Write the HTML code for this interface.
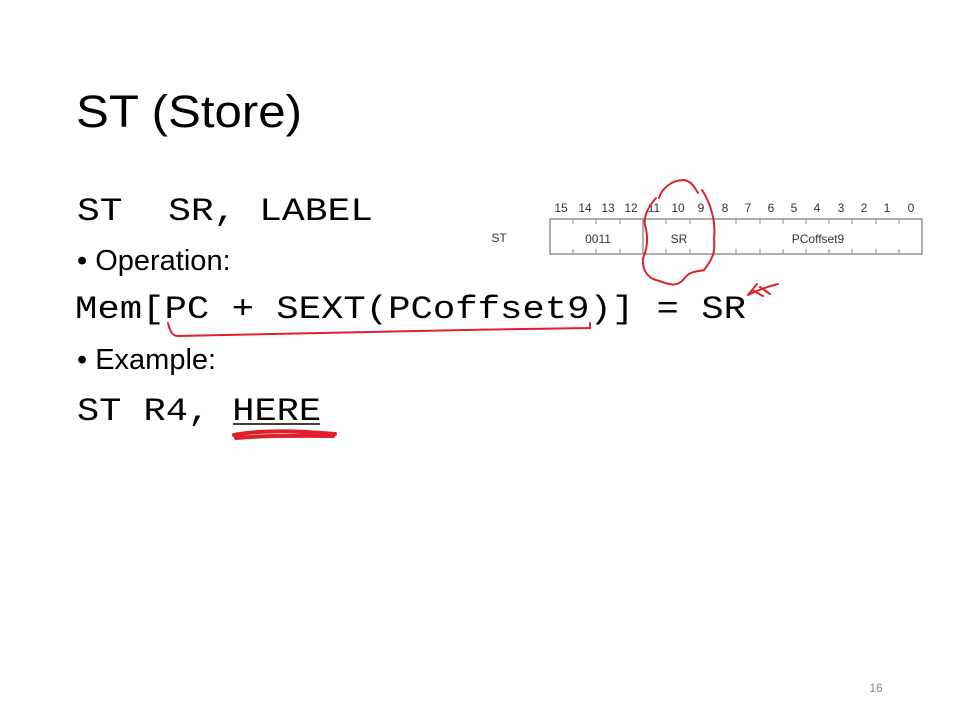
<!DOCTYPE html>
<html><head><meta charset="utf-8"><style>
html,body{margin:0;padding:0;background:#fff;}
svg{display:block;}
text{white-space:pre;}
</style></head><body>
<svg width="960" height="720" viewBox="0 0 960 720" xmlns="http://www.w3.org/2000/svg" xml:space="preserve">
<rect width="960" height="720" fill="#fff"/>
<text x="76" y="127" font-family="Liberation Sans, sans-serif" font-size="45" textLength="226" lengthAdjust="spacingAndGlyphs" fill="#000">ST (Store)</text>
<g font-family="Liberation Mono, monospace" font-size="32" fill="#000" font-weight="normal">
<text x="77" y="220" textLength="296" lengthAdjust="spacingAndGlyphs">ST  SR, LABEL</text>
<text x="75" y="318" textLength="671" lengthAdjust="spacingAndGlyphs">Mem[PC + SEXT(PCoffset9)] = SR</text>
<text x="77" y="420" textLength="244" lengthAdjust="spacingAndGlyphs">ST R4, HERE</text>
</g>
<g font-family="Liberation Sans, sans-serif" font-size="29" fill="#000">
<text x="77" y="270">• Operation:</text>
<text x="77" y="369">• Example:</text>
</g>
<line x1="233" y1="424" x2="320" y2="424" stroke="#000" stroke-width="1.5"/>
<g font-family="Liberation Sans, sans-serif" font-size="12" fill="#333" text-anchor="middle">
<text x="561" y="212">15</text><text x="585" y="212">14</text><text x="608" y="212">13</text><text x="631" y="212">12</text>
<text x="654" y="212">11</text><text x="678" y="212">10</text><text x="701" y="212">9</text><text x="725" y="212">8</text>
<text x="748" y="212">7</text><text x="771" y="212">6</text><text x="794" y="212">5</text><text x="817" y="212">4</text>
<text x="841" y="212">3</text><text x="864" y="212">2</text><text x="887" y="212">1</text><text x="911" y="212">0</text>
<text x="499" y="242">ST</text>
<text x="598" y="243">0011</text>
<text x="679" y="243">SR</text>
<text x="818" y="243">PCoffset9</text>
</g>
<rect x="550" y="219" width="372" height="35" fill="none" stroke="#777" stroke-width="1.2"/>
<line x1="643" y1="219" x2="643" y2="254" stroke="#777" stroke-width="1.2"/>
<line x1="714" y1="219" x2="714" y2="254" stroke="#777" stroke-width="1.2"/>
<g stroke="#888" stroke-width="1">
<path d="M573 219v5M596 219v5M620 219v5M666 219v5M690 219v5M736 219v5M760 219v5M783 219v5M806 219v5M829 219v5M852 219v5M876 219v5M899 219v5"/>
<path d="M573 254v-5M596 254v-5M620 254v-5M666 254v-5M690 254v-5M736 254v-5M760 254v-5M783 254v-5M806 254v-5M829 254v-5M852 254v-5M876 254v-5M899 254v-5"/>
</g>
<g fill="none" stroke="#e0202a" stroke-width="2" stroke-linecap="round">
<path d="M659 198 C 662 188, 672 180, 684 180 C 692 181, 696 190, 698 193 M702 190 C 712 205, 716 225, 714 238 C 716 255, 710 262, 704 270 C 698 272, 690 270, 683 280 C 675 289, 664 282, 656 280 C 648 278, 642 270, 643 258 C 648 248, 648 235, 645 225 C 643 215, 650 205, 656 198"/>
<path d="M168 323 C 170 331, 172 336, 178 336 C 300 333, 450 330, 590 328 L 590 323"/>
<path d="M748 295 C 760 289, 770 286, 778 284 M752 290 L 763 296 M760 287 L 770 294 M748 295 L 757 284"/>
</g>
<path d="M234 435 C 260 430, 300 431, 335 434 M236 438 C 270 435, 300 436, 333 436" stroke="#e0202a" stroke-width="4" fill="none" stroke-linecap="round"/>
<text x="876" y="692" font-family="Liberation Sans, sans-serif" font-size="12" fill="#888" text-anchor="middle">16</text>
</svg>
</body></html>
